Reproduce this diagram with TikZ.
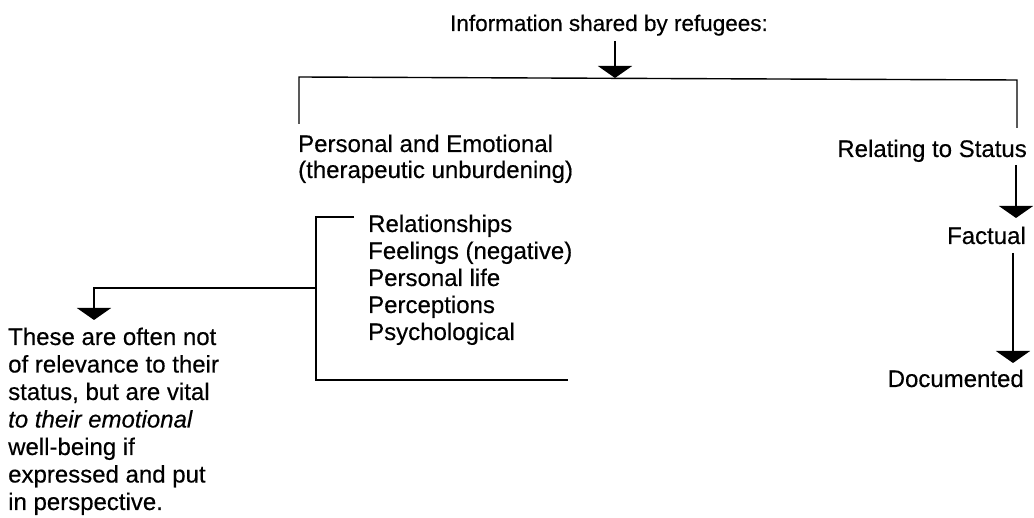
\documentclass[tikz,border=0pt]{standalone}
\usepackage{fontspec}
\setmainfont[FakeBold=0.4]{Liberation Sans}
\usetikzlibrary{arrows.meta}
\begin{document}
\begin{tikzpicture}[x=1pt,y=-1pt,
  txt/.style={inner sep=0pt, font=\fontsize{24}{28}\selectfont},
  link/.style={line width=1.4pt},
  arr/.style={line width=1.4pt, -{Triangle[width=34pt,length=12pt]}},
]
\useasboundingbox (0,0) rectangle (1034,518);

% heading and the main split
\node[txt, anchor=base, font=\fontsize{22.5}{27}\selectfont] (title) at (609,31) {Information shared by refugees:};
\coordinate (split) at (615,78);
\coordinate (lt) at (299,77);
\coordinate (rt) at (1017,80);
\coordinate (lleg) at (299,124);
\coordinate (rleg) at (1017,128);
\draw[arr] ([yshift=-5pt]title.south -| split) -- (split);
\draw[link] (lleg) -- (lt) -- (rt) -- (rleg);

% left branch
\node[txt, anchor=base west] (pe) at (298,152) {Personal and Emotional};
\node[txt, anchor=base west] (tu) at (298,178) {(therapeutic unburdening)};

% right branch
\node[txt, anchor=base east] (rs) at (1027,157) {Relating to Status};
\node[txt, anchor=base east] (fa) at (1026,244) {Factual};
\node[txt, anchor=base east] (doc) at (1024,387) {Documented};
\coordinate (a1s) at (1016,165);
\coordinate (a1e) at (1016,218);
\coordinate (a2s) at (1013,253);
\coordinate (a2e) at (1013,363);
\draw[arr] (a1s) -- (a1e);
\draw[arr] (a2s) -- (a2e);

% list of personal topics
\node[txt, anchor=base west] (l1) at (368,232) {Relationships};
\node[txt, anchor=base west] (l2) at (368,259) {Feelings (negative)};
\node[txt, anchor=base west] (l3) at (368,286) {Personal life};
\node[txt, anchor=base west] (l4) at (368,313) {Perceptions};
\node[txt, anchor=base west] (l5) at (368,340) {Psychological};
\coordinate (bt) at (316,217);
\coordinate (btr) at (354,217);
\coordinate (bb) at (316,380);
\coordinate (bbr) at (568,380);
\draw[link] (btr) -- (bt) -- (bb) -- (bbr);

% side note
\coordinate (br) at (316,288);
\coordinate (bl) at (94,288);
\coordinate (btip) at (94,320);
\draw[arr] (br) -- (bl) -- (btip);
\node[txt, anchor=base west] (n1) at (8,345) {These are often not};
\node[txt, anchor=base west] (n2) at (8,372.5) {of relevance to their};
\node[txt, anchor=base west] (n3) at (8,400) {status, but are vital};
\node[txt, anchor=base west] (n4) at (8,427.5) {\itshape to their emotional};
\node[txt, anchor=base west] (n5) at (8,455) {well-being if};
\node[txt, anchor=base west] (n6) at (8,482.5) {expressed and put};
\node[txt, anchor=base west] (n7) at (8,510) {in perspective.};
\end{tikzpicture}
\end{document}
